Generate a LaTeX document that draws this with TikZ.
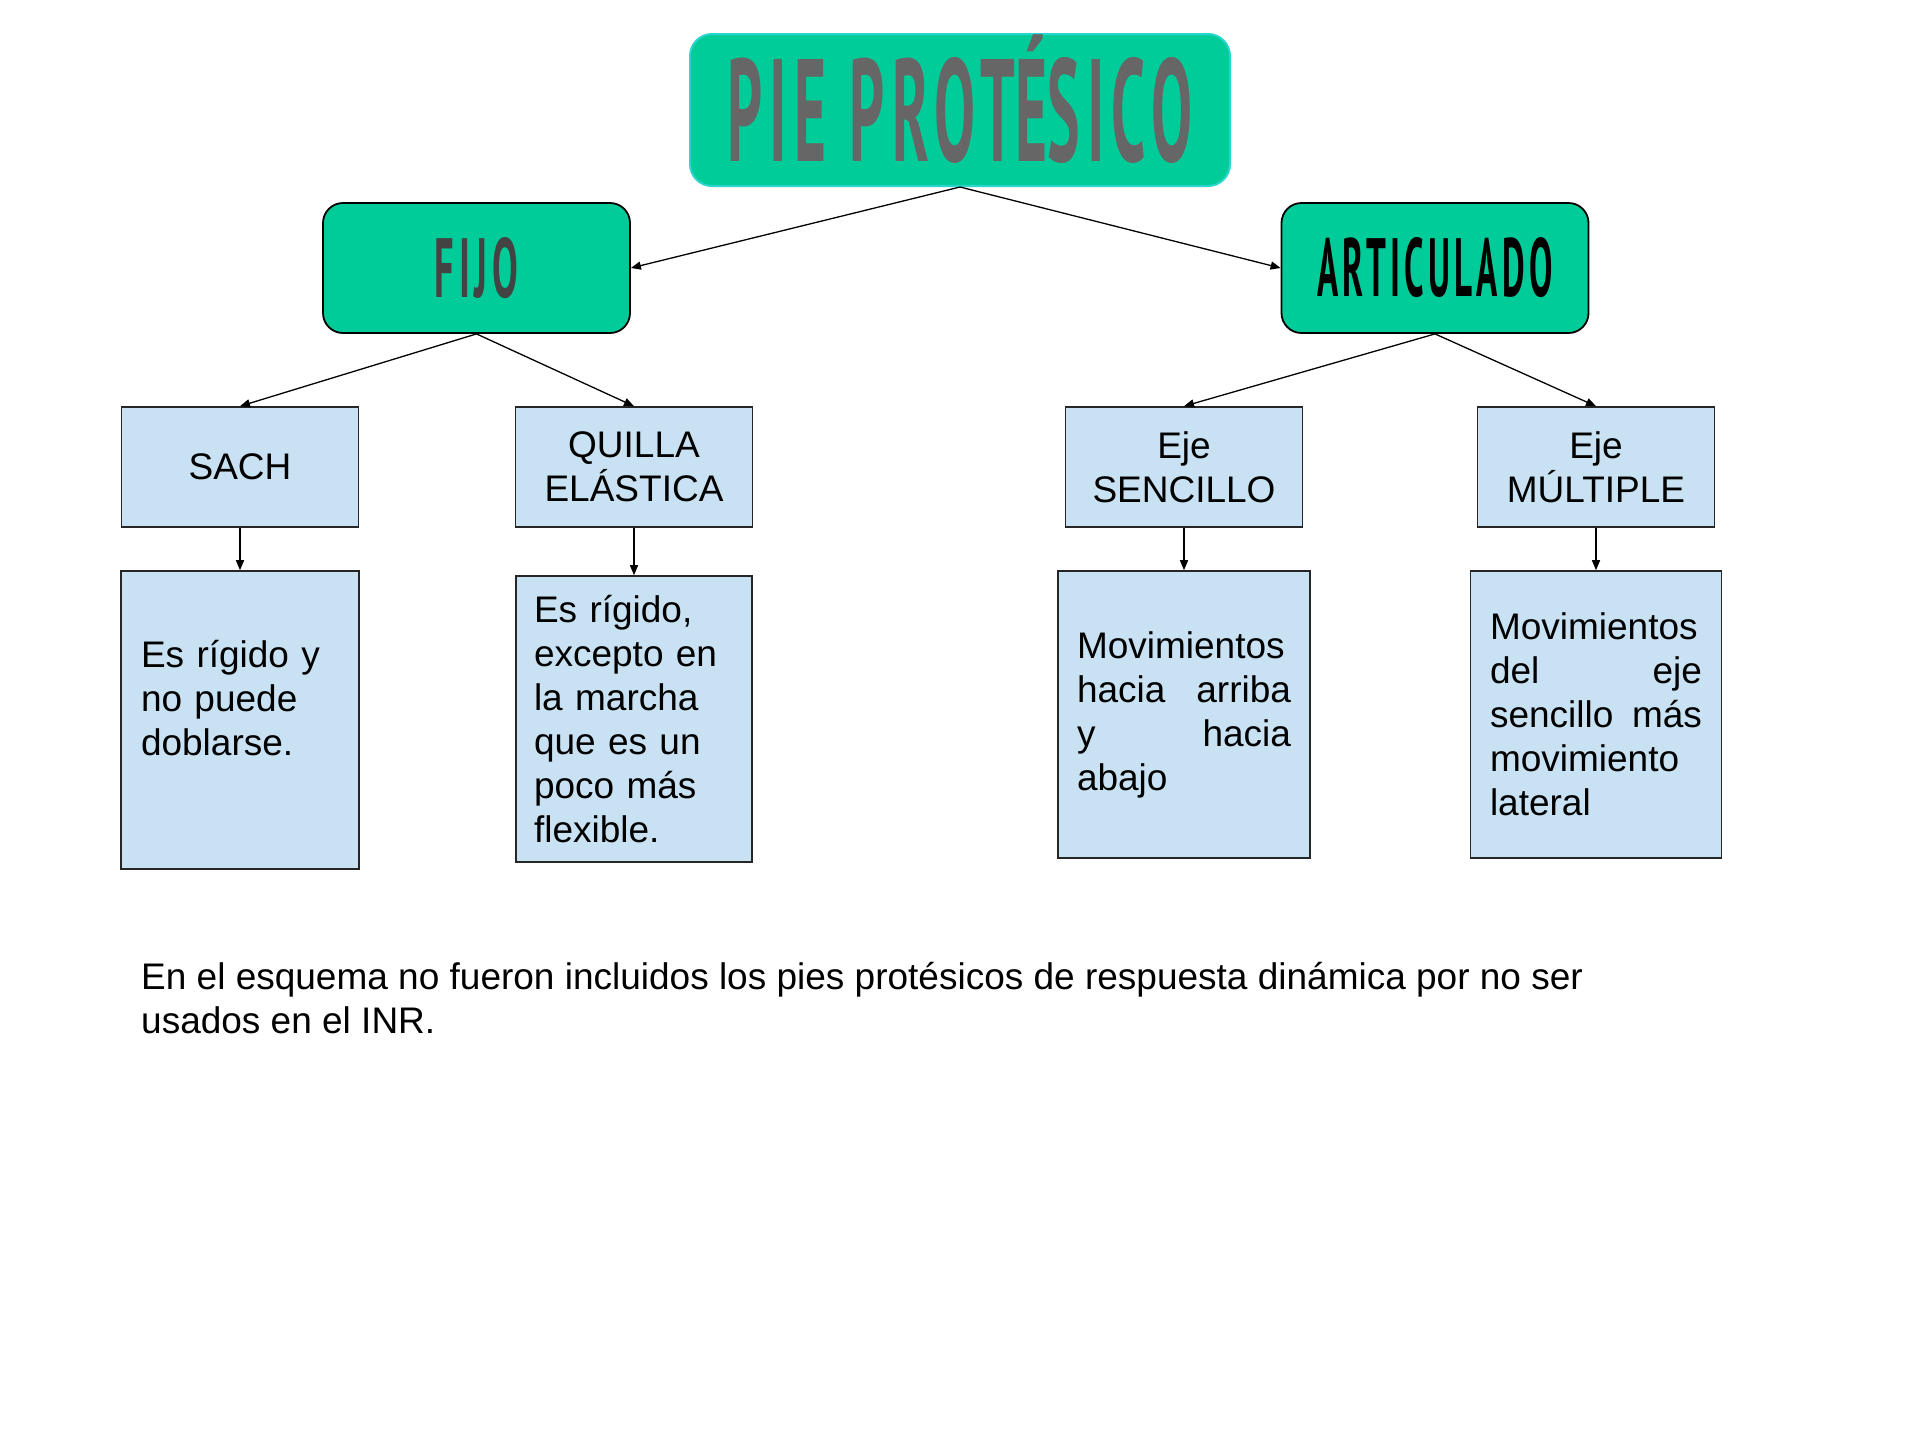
\documentclass[tikz,border=0pt]{standalone}
\usepackage{graphicx}
\usepackage{fontspec}
\setmainfont{Liberation Sans}
\newfontfamily\handfont[LetterSpace=12]{PT Sans}
\usetikzlibrary{arrows.meta}
\definecolor{tealfill}{RGB}{0,204,153}
\definecolor{tealborder}{RGB}{40,214,205}
\definecolor{boxblue}{RGB}{201,226,243}
\definecolor{titlegray}{RGB}{102,102,102}
\definecolor{fijogray}{RGB}{67,67,67}
\begin{document}
\begin{tikzpicture}[x=1pt,y=-1pt,
  catbox/.style={draw=black, line width=1.8pt, fill=tealfill, rounded corners=20pt,
    minimum width=307pt, minimum height=130pt, inner sep=0pt},
  labelbox/.style={draw=black!85, line width=1.6pt, fill=boxblue, minimum width=237pt,
    minimum height=120pt, inner sep=0pt, align=center, font=\fontsize{37}{44}\selectfont},
  descbox/.style={draw=black!85, line width=1.6pt, fill=boxblue, inner sep=0pt,
    align=left, font=\fontsize{37}{44}\selectfont},
  arr/.style={line width=1.3pt, -{Triangle[length=10pt,width=8pt]}},
]
\useasboundingbox (0,0) rectangle (1921,1441);
\fill[white] (0,0) rectangle (1921,1441);

% title and categories
\node[draw=tealborder, line width=2pt, fill=tealfill, rounded corners=22pt,
  minimum width=540pt, minimum height=152pt, inner sep=0pt, text=titlegray]
  (title) at (960,110) {\resizebox{465pt}{104pt}{\handfont\bfseries PIE PROT\smash{É}SICO}};
\node[catbox, text=fijogray] (fijo) at (476.5,268)
  {\resizebox{83pt}{60pt}{\handfont\bfseries FIJO}};
\node[catbox, text=black] (art) at (1435,268)
  {\resizebox{235pt}{59pt}{\handfont\bfseries ARTICULADO}};

% label boxes
\node[labelbox] (sach) at (240,467) {SACH};
\node[labelbox] (quilla) at (634,467) {QUILLA\\ELÁSTICA};
\node[labelbox] (senc) at (1184,467) {Eje\\SENCILLO};
\node[labelbox] (mult) at (1596,467) {Eje\\MÚLTIPLE};

% description boxes
\node[descbox, minimum width=238pt, minimum height=298pt, text width=198pt]
  (sachd) at (240,720) {Es rígido y\\no puede\\doblarse.\\\mbox{}};
\node[descbox, minimum width=236pt, minimum height=286pt, text width=200pt]
  (quillad) at (634,719) {Es rígido,\\excepto en\\la marcha\\que es un\\poco más\\flexible.};
\node[descbox, minimum width=252pt, minimum height=287pt, text width=214pt]
  (sencd) at (1184,714.5) {Movimientos\\hacia\hfill arriba\\y\hfill hacia\\abajo};
\node[descbox, minimum width=251pt, minimum height=287pt, text width=212pt]
  (multd) at (1596,714.5) {Movimientos\\del\hfill eje\\sencillo\hfill más\\movimiento\\lateral};

% note
\node[anchor=north west, inner sep=0pt, align=left, font=\fontsize{37}{44}\selectfont]
  (note) at (141,958) {\strut En el esquema no fueron incluidos los pies protésicos de respuesta dinámica por no ser\\usados en el INR.};

% connectors
\draw[arr] (title.south) -- (fijo.east);
\draw[arr] (title.south) -- (art.west);
\draw[arr] (fijo.south) -- (sach.north);
\draw[arr] (fijo.south) -- (quilla.north);
\draw[arr] (art.south) -- (senc.north);
\draw[arr] (art.south) -- (mult.north);
\draw[arr] (sach.south) -- (sachd.north);
\draw[arr] (quilla.south) -- (quillad.north);
\draw[arr] (senc.south) -- (sencd.north);
\draw[arr] (mult.south) -- (multd.north);
\end{tikzpicture}
\end{document}
